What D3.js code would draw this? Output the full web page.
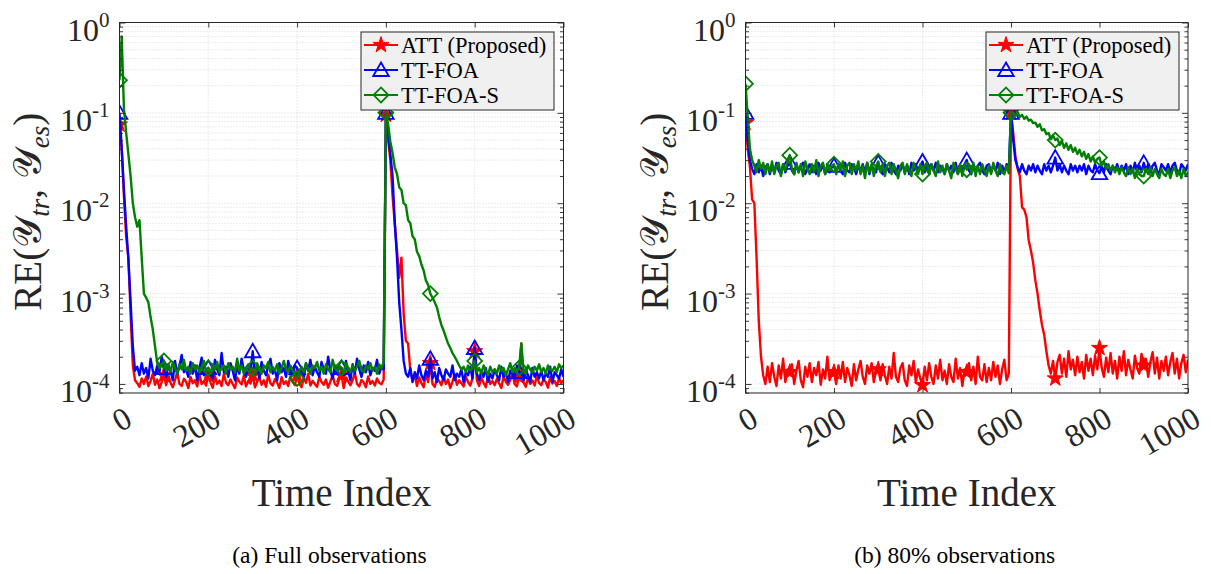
<!DOCTYPE html>
<html><head><meta charset="utf-8">
<script src="https://cdn.jsdelivr.net/npm/d3@7"></script>
<style>body{margin:0;background:#fff}svg{display:block}</style>
</head><body>
<svg id="c" width="1211" height="574"></svg>
<script>
// ---------------- data ----------------
const timeIndex = d3.range(0, 1001, 5);            // sampled time index
const seriesNames = ["ATT (Proposed)", "TT-FOA", "TT-FOA-S"];
const xTicks = [0, 200, 400, 600, 800, 1000];
const yDecades = [1e-4, 1e-3, 1e-2, 1e-1, 1];
const yTickExponents = ["-4", "-3", "-2", "-1", "0"];
const markerTimes = [0, 100, 200, 300, 400, 500, 600, 700, 800, 900];
const captions = ["(a) Full observations", "(b) 80% observations"];
const xLabel = "Time Index";

// (a) Full observations
const attFull = [
0.074,0.04,0.012,4.3e-3,2.5e-3,6e-4,1.6e-4,1.1e-4,1.02e-4,0.93e-4,
1.15e-4,1.0e-4,1.21e-4,0.95e-4,1.08e-4,1.3e-4,0.98e-4,1.12e-4,0.9e-4,1.05e-4,
1.25e-4,0.97e-4,1.25e-4,1.03e-4,0.92e-4,1.1e-4,1.35e-4,1.0e-4,0.95e-4,1.14e-4,
1.06e-4,0.9e-4,1.2e-4,1.02e-4,1.1e-4,0.94e-4,1.28e-4,1.0e-4,1.07e-4,0.96e-4,
1.25e-4,1.04e-4,0.91e-4,1.22e-4,1.0e-4,1.09e-4,0.95e-4,1.3e-4,1.03e-4,0.97e-4,
1.12e-4,1.0e-4,0.9e-4,1.18e-4,1.06e-4,0.99e-4,1.24e-4,0.94e-4,1.08e-4,1.01e-4,
1.25e-4,0.92e-4,1.05e-4,1.2e-4,0.98e-4,1.1e-4,0.93e-4,1.27e-4,1.02e-4,0.96e-4,
1.13e-4,1.04e-4,0.9e-4,1.19e-4,1.0e-4,1.07e-4,0.95e-4,1.23e-4,1.05e-4,0.97e-4,
1.25e-4,1.01e-4,0.92e-4,1.16e-4,1.03e-4,1.3e-4,0.96e-4,1.08e-4,1.0e-4,0.93e-4,
1.2e-4,1.05e-4,0.98e-4,1.12e-4,0.91e-4,1.06e-4,1.25e-4,1.0e-4,0.95e-4,1.14e-4,
1.25e-4,0.9e-4,1.18e-4,1.07e-4,0.97e-4,1.1e-4,1.33e-4,1.0e-4,0.94e-4,1.11e-4,
1.04e-4,0.92e-4,1.21e-4,1.0e-4,1.08e-4,0.96e-4,1.15e-4,1.03e-4,0.99e-4,1.12e-4,
0.095,0.05,0.03,0.012,6e-3,3e-3,1.5e-3,2.5e-3,6e-4,3e-4,
2.8e-4,1.4e-4,1.1e-4,1.25e-4,0.95e-4,1.18e-4,1.02e-4,0.92e-4,1.3e-4,1.05e-4,
1.7e-4,1.0e-4,0.93e-4,1.15e-4,1.08e-4,0.97e-4,1.22e-4,1.0e-4,1.12e-4,0.9e-4,
1.06e-4,1.28e-4,0.98e-4,1.1e-4,1.02e-4,0.94e-4,1.2e-4,1.05e-4,0.96e-4,1.15e-4,
2.3e-4,1.1e-4,0.95e-4,1.18e-4,1.03e-4,0.92e-4,1.26e-4,1.0e-4,1.08e-4,0.97e-4,
1.14e-4,1.02e-4,0.9e-4,1.21e-4,1.06e-4,0.98e-4,1.1e-4,1.32e-4,1.0e-4,0.94e-4,
1.2e-4,2.8e-4,1.04e-4,0.93e-4,1.17e-4,1.0e-4,1.09e-4,0.96e-4,1.24e-4,1.03e-4,
0.97e-4,1.13e-4,1.05e-4,0.91e-4,1.19e-4,1.01e-4,1.08e-4,0.95e-4,1.16e-4,1.02e-4,
1.1e-4];
const foaFull = [
0.1,0.04,0.014,5.5e-3,2.4e-3,8e-4,2.6e-4,1.4e-4,1.55e-4,1.25e-4,
1.7e-4,1.3e-4,1.5e-4,1.15e-4,1.9e-4,1.4e-4,1.25e-4,1.6e-4,1.35e-4,2.0e-4,
1.5e-4,1.2e-4,1.65e-4,1.4e-4,1.1e-4,1.8e-4,1.3e-4,1.55e-4,2.1e-4,1.35e-4,
1.45e-4,1.2e-4,1.75e-4,1.3e-4,1.6e-4,1.1e-4,1.5e-4,1.95e-4,1.25e-4,1.4e-4,
1.5e-4,1.3e-4,1.15e-4,1.85e-4,1.45e-4,1.25e-4,2.2e-4,1.35e-4,1.55e-4,1.2e-4,
1.7e-4,1.4e-4,1.1e-4,1.6e-4,1.3e-4,1.9e-4,1.45e-4,1.2e-4,1.5e-4,1.35e-4,
2.3e-4,1.3e-4,1.55e-4,1.15e-4,1.75e-4,1.4e-4,1.25e-4,1.6e-4,1.9e-4,1.3e-4,
1.45e-4,1.1e-4,1.7e-4,1.35e-4,1.5e-4,1.2e-4,1.8e-4,1.4e-4,1.25e-4,1.6e-4,
1.5e-4,1.3e-4,1.5e-4,1.15e-4,1.7e-4,1.4e-4,1.85e-4,1.25e-4,1.55e-4,1.35e-4,
1.2e-4,1.75e-4,1.45e-4,1.3e-4,2.0e-4,1.4e-4,1.15e-4,1.6e-4,1.35e-4,1.5e-4,
1.5e-4,1.25e-4,1.8e-4,1.4e-4,1.1e-4,1.65e-4,1.3e-4,1.9e-4,1.45e-4,1.2e-4,
1.6e-4,1.35e-4,1.75e-4,1.25e-4,1.5e-4,1.4e-4,1.85e-4,1.3e-4,1.55e-4,1.45e-4,
0.1,0.06,0.035,0.02,6e-3,2.5e-3,8e-4,4e-4,1.8e-4,1.3e-4,
1.2e-4,1.5e-4,1.05e-4,1.35e-4,1.15e-4,1.6e-4,1.25e-4,1.1e-4,1.4e-4,1.2e-4,
1.9e-4,1.15e-4,1.35e-4,1.05e-4,1.5e-4,1.25e-4,1.1e-4,1.45e-4,1.3e-4,1.2e-4,
1.6e-4,1.1e-4,1.3e-4,1.2e-4,1.45e-4,1.05e-4,1.35e-4,1.25e-4,1.55e-4,1.15e-4,
2.5e-4,1.3e-4,1.1e-4,1.4e-4,1.2e-4,1.5e-4,1.05e-4,1.3e-4,1.15e-4,1.45e-4,
1.25e-4,1.1e-4,1.55e-4,1.2e-4,1.35e-4,1.05e-4,1.4e-4,1.3e-4,1.15e-4,1.6e-4,
1.35e-4,1.35e-4,1.1e-4,1.45e-4,1.25e-4,1.05e-4,1.5e-4,1.2e-4,1.35e-4,1.15e-4,
1.4e-4,1.1e-4,1.3e-4,1.2e-4,1.55e-4,1.05e-4,1.35e-4,1.25e-4,1.15e-4,1.45e-4,
1.2e-4];
const foasFull = [
0.23,0.7,0.11,0.06,0.035,0.02,0.01,7e-3,5.5e-3,6.5e-3,
2.5e-3,1.0e-3,9e-4,8e-4,5.5e-4,4e-4,2.6e-4,1.7e-4,1.5e-4,1.65e-4,
1.8e-4,1.4e-4,1.6e-4,1.35e-4,1.75e-4,1.5e-4,1.3e-4,1.65e-4,1.45e-4,1.85e-4,
1.4e-4,1.55e-4,1.3e-4,1.7e-4,1.45e-4,1.6e-4,1.35e-4,1.5e-4,1.8e-4,1.4e-4,
1.5e-4,1.3e-4,1.65e-4,1.45e-4,1.75e-4,1.35e-4,1.5e-4,1.6e-4,1.3e-4,1.7e-4,
1.45e-4,1.55e-4,1.35e-4,1.9e-4,1.4e-4,1.6e-4,1.3e-4,1.5e-4,1.65e-4,1.4e-4,
1.5e-4,1.35e-4,1.7e-4,1.45e-4,1.3e-4,1.6e-4,1.5e-4,1.75e-4,1.35e-4,1.55e-4,
1.4e-4,1.65e-4,1.3e-4,1.5e-4,1.8e-4,1.45e-4,1.35e-4,1.6e-4,1.4e-4,1.3e-4,
1.15e-4,1.4e-4,1.55e-4,1.35e-4,1.7e-4,1.45e-4,1.3e-4,1.6e-4,1.5e-4,1.75e-4,
1.4e-4,1.55e-4,1.3e-4,1.65e-4,1.45e-4,1.35e-4,1.85e-4,1.5e-4,1.4e-4,1.6e-4,
1.5e-4,1.3e-4,1.7e-4,1.5e-4,1.35e-4,1.6e-4,1.4e-4,1.55e-4,1.8e-4,1.45e-4,
1.35e-4,1.6e-4,1.45e-4,1.7e-4,1.4e-4,1.55e-4,1.3e-4,1.65e-4,1.5e-4,1.75e-4,
0.1,0.075,0.048,0.036,0.025,0.021,0.015,0.014,0.01,9.5e-3,
6.5e-3,6e-3,4.3e-3,4e-3,2.9e-3,2.6e-3,2.1e-3,1.8e-3,1.4e-3,1.25e-3,
1.0e-3,9e-4,8e-4,7e-4,5.5e-4,4.5e-4,3.9e-4,3.3e-4,2.8e-4,2.5e-4,
2.2e-4,2.0e-4,1.8e-4,1.6e-4,1.45e-4,1.55e-4,1.35e-4,1.6e-4,1.4e-4,1.5e-4,
1.8e-4,1.35e-4,1.5e-4,1.3e-4,1.6e-4,1.4e-4,1.25e-4,1.55e-4,1.35e-4,1.45e-4,
1.3e-4,1.6e-4,1.4e-4,1.5e-4,1.25e-4,1.45e-4,1.7e-4,1.35e-4,1.5e-4,1.4e-4,
1.5e-4,2.8e-4,1.4e-4,1.3e-4,1.6e-4,1.45e-4,1.35e-4,1.55e-4,1.4e-4,1.65e-4,
1.35e-4,1.5e-4,1.3e-4,1.6e-4,1.45e-4,1.4e-4,1.55e-4,1.35e-4,1.65e-4,1.5e-4,
1.6e-4];

// (b) 80% observations
const att80 = [
0.077,0.04,0.025,0.011,0.01,2.5e-3,5e-4,2e-4,1.25e-4,1.0e-4,
1.55e-4,1.05e-4,1.7e-4,1.2e-4,0.95e-4,1.6e-4,1.15e-4,1.9e-4,1.05e-4,1.45e-4,
1.35e-4,1.65e-4,1.0e-4,1.4e-4,1.8e-4,1.1e-4,0.92e-4,1.55e-4,1.2e-4,1.7e-4,
1.05e-4,1.5e-4,1.25e-4,1.75e-4,0.98e-4,1.45e-4,1.15e-4,2.0e-4,1.1e-4,1.35e-4,
1.35e-4,1.0e-4,1.6e-4,1.15e-4,1.75e-4,1.05e-4,1.5e-4,1.25e-4,0.95e-4,1.65e-4,
1.1e-4,1.45e-4,1.8e-4,1.2e-4,1.0e-4,1.6e-4,1.3e-4,1.7e-4,1.05e-4,1.4e-4,
1.45e-4,1.1e-4,1.65e-4,1.25e-4,1.0e-4,1.55e-4,1.15e-4,2.2e-4,1.2e-4,1.05e-4,
1.5e-4,1.7e-4,1.1e-4,0.95e-4,1.6e-4,1.25e-4,1.8e-4,1.05e-4,1.45e-4,1.15e-4,
0.97e-4,1.55e-4,1.1e-4,1.7e-4,1.2e-4,1.0e-4,1.6e-4,1.15e-4,1.85e-4,1.1e-4,
1.4e-4,1.0e-4,1.65e-4,1.2e-4,1.05e-4,1.9e-4,1.15e-4,1.5e-4,0.95e-4,1.45e-4,
1.35e-4,1.7e-4,1.1e-4,1.55e-4,1.0e-4,2.0e-4,1.2e-4,1.1e-4,1.65e-4,1.05e-4,
1.5e-4,1.1e-4,1.75e-4,1.2e-4,1.6e-4,1.0e-4,1.45e-4,1.85e-4,1.1e-4,1.3e-4,
0.1,0.06,0.033,0.024,0.02,9e-3,8.5e-3,7e-3,3.9e-3,3e-3,
2.2e-3,1.4e-3,1.0e-3,6.5e-4,4.5e-4,3.5e-4,2.3e-4,1.6e-4,1.3e-4,1.8e-4,
1.15e-4,1.75e-4,2.1e-4,1.3e-4,1.9e-4,1.2e-4,2.3e-4,1.45e-4,1.85e-4,1.25e-4,
2.0e-4,1.35e-4,1.75e-4,1.15e-4,2.1e-4,1.4e-4,1.9e-4,1.25e-4,2.05e-4,1.45e-4,
2.5e-4,1.5e-4,1.2e-4,1.95e-4,1.35e-4,2.2e-4,1.3e-4,1.8e-4,1.15e-4,2.0e-4,
1.4e-4,2.3e-4,1.25e-4,1.85e-4,1.45e-4,1.15e-4,2.05e-4,1.5e-4,1.3e-4,2.15e-4,
1.6e-4,1.9e-4,1.2e-4,1.75e-4,2.25e-4,1.3e-4,1.95e-4,1.15e-4,1.8e-4,1.4e-4,
2.0e-4,1.25e-4,1.75e-4,2.2e-4,1.3e-4,1.9e-4,1.15e-4,1.7e-4,2.1e-4,1.35e-4,
1.85e-4];
const foa80 = [
0.1,0.05,0.03,0.024,0.021,0.027,0.022,0.026,0.020,0.025,
0.027,0.021,0.026,0.022,0.028,0.023,0.021,0.027,0.022,0.026,
0.028,0.023,0.021,0.027,0.022,0.026,0.028,0.021,0.024,0.027,
0.022,0.026,0.021,0.028,0.023,0.027,0.021,0.026,0.022,0.025,
0.026,0.022,0.027,0.023,0.021,0.028,0.023,0.022,0.027,0.025,
0.021,0.026,0.023,0.027,0.022,0.028,0.021,0.026,0.024,0.022,
0.028,0.023,0.021,0.027,0.025,0.022,0.028,0.023,0.021,0.026,
0.023,0.027,0.022,0.026,0.021,0.028,0.023,0.027,0.022,0.026,
0.029,0.022,0.026,0.021,0.027,0.023,0.028,0.022,0.026,0.024,
0.021,0.027,0.023,0.026,0.022,0.028,0.021,0.026,0.023,0.027,
0.030,0.023,0.021,0.027,0.022,0.026,0.028,0.023,0.021,0.026,
0.027,0.022,0.026,0.023,0.028,0.021,0.026,0.022,0.027,0.023,
0.1,0.05,0.03,0.025,0.022,0.027,0.023,0.021,0.026,0.023,
0.027,0.022,0.026,0.023,0.021,0.027,0.023,0.026,0.022,0.026,
0.032,0.023,0.027,0.022,0.026,0.023,0.021,0.027,0.023,0.026,
0.022,0.026,0.023,0.027,0.021,0.026,0.023,0.022,0.027,0.023,
0.0215,0.026,0.022,0.027,0.023,0.021,0.026,0.023,0.027,0.022,
0.026,0.023,0.027,0.021,0.026,0.022,0.028,0.023,0.026,0.022,
0.028,0.023,0.027,0.022,0.026,0.028,0.023,0.021,0.027,0.025,
0.023,0.027,0.022,0.026,0.028,0.023,0.021,0.027,0.025,0.023,
0.027];
const foas80 = [
0.21,0.09,0.04,0.03,0.026,0.022,0.03,0.024,0.028,0.021,
0.027,0.022,0.029,0.021,0.026,0.028,0.02,0.027,0.023,0.029,
0.034,0.024,0.021,0.028,0.022,0.027,0.02,0.029,0.024,0.021,
0.027,0.022,0.03,0.02,0.026,0.028,0.021,0.027,0.023,0.026,
0.027,0.021,0.027,0.023,0.029,0.02,0.026,0.028,0.021,0.027,
0.023,0.029,0.021,0.026,0.019,0.028,0.022,0.027,0.02,0.026,
0.029,0.022,0.027,0.02,0.026,0.028,0.021,0.027,0.023,0.019,
0.026,0.028,0.021,0.027,0.023,0.02,0.028,0.024,0.021,0.027,
0.021,0.026,0.028,0.021,0.027,0.023,0.02,0.029,0.022,0.026,
0.021,0.027,0.023,0.019,0.028,0.024,0.021,0.027,0.02,0.026,
0.0235,0.027,0.022,0.028,0.02,0.026,0.021,0.027,0.023,0.02,
0.026,0.021,0.028,0.023,0.02,0.027,0.022,0.021,0.026,0.0215,
0.1,0.1,0.094,0.1,0.09,0.095,0.086,0.091,0.082,0.084,
0.077,0.078,0.07,0.075,0.064,0.066,0.058,0.06,0.051,0.056,
0.05,0.052,0.044,0.049,0.041,0.046,0.039,0.044,0.037,0.041,
0.035,0.039,0.033,0.037,0.031,0.035,0.029,0.033,0.028,0.031,
0.032,0.026,0.029,0.024,0.027,0.023,0.026,0.022,0.025,0.021,
0.025,0.022,0.02,0.025,0.021,0.024,0.019,0.024,0.021,0.02,
0.02,0.024,0.021,0.025,0.02,0.024,0.021,0.019,0.024,0.021,
0.02,0.024,0.019,0.023,0.025,0.02,0.023,0.019,0.024,0.02,
0.022];

// ---------------- layout / style ----------------
const FONT = '"Liberation Serif","DejaVu Serif",serif';
const colors = ["#ff0000", "#0000ff", "#008000"];
const markerKinds = ["star", "triangle", "diamond"];
const yTop = 22.5, yBot = 393;
const panels = [
  {x0: 119.5, x1: 563.5, series: [attFull, foaFull, foasFull], caption: captions[0], legX: 361, ylabX: 41},
  {x0: 745.5, x1: 1188, series: [att80, foa80, foas80], caption: captions[1], legX: 986, ylabX: 668}
];

const svg = d3.select("#c");
svg.append("rect").attr("width", 1211).attr("height", 574).attr("fill", "#fff");

function markerPath(kind) {
  if (kind === "star") return d3.symbol(d3.symbolStar, 80)();
  if (kind === "triangle") return d3.symbol(d3.symbolTriangle, 105)();
  return d3.symbol(d3.symbolSquare, 110)();
}
function drawMarker(g, kind, color, cx, cy) {
  const p = g.append("path").attr("d", markerPath(kind))
    .attr("stroke", color).attr("stroke-width", 1.8);
  if (kind === "star") p.attr("fill", color).attr("stroke-width", 1);
  else p.attr("fill", "none");
  if (kind === "diamond") p.attr("transform", `translate(${cx},${cy}) rotate(45)`);
  else if (kind === "triangle") p.attr("transform", `translate(${cx},${cy + 1.5})`);
  else p.attr("transform", `translate(${cx},${cy})`);
}

panels.forEach((p, pi) => {
  const x = d3.scaleLinear().domain([0, 1000]).range([p.x0, p.x1]);
  const y = d3.scaleLog().domain([Math.pow(10, -4.1), 1]).range([yBot, yTop]);
  const g = svg.append("g");

  const minorVals = [];
  for (let e = -5; e < 0; e++) for (let m = 1; m < 10; m++) {
    const v = m * Math.pow(10, e);
    if (v >= y.domain()[0] && v < 1) minorVals.push(v);
  }
  const gridG = g.append("g").attr("stroke", "#cfcfcf").attr("stroke-width", 0.8).attr("stroke-dasharray", "1,2");
  gridG.selectAll("line.h").data(minorVals).join("line")
    .attr("x1", p.x0).attr("x2", p.x1).attr("y1", d => y(d)).attr("y2", d => y(d));
  gridG.selectAll("line.v").data(xTicks.slice(1, -1)).join("line")
    .attr("x1", d => x(d)).attr("x2", d => x(d)).attr("y1", yTop).attr("y2", yBot);

  const cid = "clip" + pi;
  svg.append("clipPath").attr("id", cid).append("rect")
    .attr("x", p.x0).attr("y", yTop).attr("width", p.x1 - p.x0).attr("height", yBot - yTop);

  const line = d3.line().x(d => x(d.t)).y(d => y(d.v));
  const plotG = g.append("g").attr("clip-path", `url(#${cid})`);
  p.series.forEach((arr, si) => {
    const pts = timeIndex.map((t, i) => ({t, v: arr[i]})).filter(d => d.v !== undefined);
    plotG.append("path").datum(pts).attr("d", line)
      .attr("fill", "none").attr("stroke", colors[si]).attr("stroke-width", 2.4)
      .attr("stroke-linejoin", "round");
    pts.filter(d => markerTimes.includes(d.t)).forEach(d => {
      drawMarker(plotG, markerKinds[si], colors[si], x(d.t), y(d.v));
    });
  });

  const axCol = "#262626";
  const styleAx = sel => {
    sel.select(".domain").remove();
    sel.selectAll(".tick line").attr("stroke", axCol).attr("stroke-width", 0.9);
    sel.selectAll(".tick text").remove();
  };
  const minorOnly = minorVals.filter(v => !yDecades.includes(v));
  g.append("g").attr("transform", `translate(0,${yBot})`)
    .call(d3.axisBottom(x).tickValues(xTicks).tickSize(-5).tickFormat("")).call(styleAx);
  g.append("g").attr("transform", `translate(0,${yTop})`)
    .call(d3.axisTop(x).tickValues(xTicks).tickSize(-5).tickFormat("")).call(styleAx);
  g.append("g").attr("transform", `translate(${p.x0},0)`)
    .call(d3.axisLeft(y).tickValues(yDecades).tickSize(-6).tickFormat("")).call(styleAx);
  g.append("g").attr("transform", `translate(${p.x0},0)`)
    .call(d3.axisLeft(y).tickValues(minorOnly).tickSize(-3.5).tickFormat("")).call(styleAx);
  g.append("g").attr("transform", `translate(${p.x1},0)`)
    .call(d3.axisRight(y).tickValues(yDecades).tickSize(-6).tickFormat("")).call(styleAx);
  g.append("g").attr("transform", `translate(${p.x1},0)`)
    .call(d3.axisRight(y).tickValues(minorOnly).tickSize(-3.5).tickFormat("")).call(styleAx);
  g.append("rect").attr("x", p.x0).attr("y", yTop).attr("width", p.x1 - p.x0).attr("height", yBot - yTop)
    .attr("fill", "none").attr("stroke", axCol).attr("stroke-width", 1);

  yDecades.forEach((v, k) => {
    const t = g.append("text").attr("x", p.x0 - 10).attr("y", y(v) + 18)
      .attr("text-anchor", "end").attr("font-family", FONT).attr("font-size", 32).attr("fill", "#262626");
    t.append("tspan").text("10");
    t.append("tspan").attr("dy", -14).attr("font-size", 21).text(yTickExponents[k]);
  });
  xTicks.forEach(v => {
    g.append("text")
      .attr("transform", `translate(${x(v) + 9},415) rotate(-30)`)
      .attr("text-anchor", "end").attr("dominant-baseline", "central")
      .attr("font-family", FONT).attr("font-size", 32).attr("fill", "#262626").text(v);
  });
  g.append("text").attr("x", (p.x0 + p.x1) / 2).attr("y", 506).attr("text-anchor", "middle")
    .attr("font-family", FONT).attr("font-size", 39).attr("fill", "#262626").text(xLabel);
  const yl = g.append("text").attr("transform", `translate(${p.ylabX},${(yTop + yBot) / 2 + 4}) rotate(-90)`)
    .attr("text-anchor", "middle").attr("font-family", FONT).attr("font-size", 39).attr("fill", "#262626");
  yl.append("tspan").text("RE(");
  yl.append("tspan").text("\u{1D4B4}");
  yl.append("tspan").attr("dy", 8).attr("font-size", 27).attr("font-style", "italic").text("tr");
  yl.append("tspan").attr("dy", -8).text(", ");
  yl.append("tspan").text("\u{1D4B4}");
  yl.append("tspan").attr("dy", 8).attr("font-size", 27).attr("font-style", "italic").text("es");
  yl.append("tspan").attr("dy", -8).text(")");
  g.append("text").attr("x", (p.x0 + p.x1) / 2 - 12).attr("y", 563).attr("text-anchor", "middle")
    .attr("font-family", FONT).attr("font-size", 23.5).attr("fill", "#000").text(p.caption);

  const lg = g.append("g");
  lg.append("rect").attr("x", p.legX).attr("y", 32).attr("width", 193).attr("height", 78)
    .attr("fill", "#f0f0f0").attr("stroke", "#262626").attr("stroke-width", 1);
  seriesNames.forEach((name, si) => {
    const cy = 45 + si * 25;
    lg.append("line").attr("x1", p.legX + 3).attr("x2", p.legX + 37).attr("y1", cy).attr("y2", cy)
      .attr("stroke", colors[si]).attr("stroke-width", 2);
    drawMarker(lg, markerKinds[si], colors[si], p.legX + 20, cy);
    lg.append("text").attr("x", p.legX + 40).attr("y", cy + 8).attr("font-family", FONT)
      .attr("font-size", 22.5).attr("fill", "#000").text(name);
  });
});
</script>
</body></html>
